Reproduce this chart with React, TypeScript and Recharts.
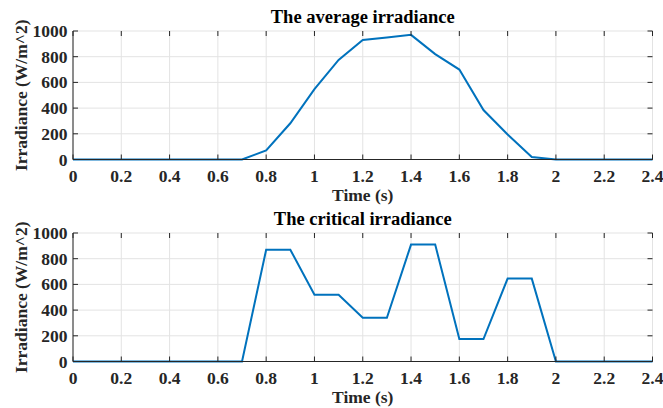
import { LineChart, Line, XAxis, YAxis, CartesianGrid } from 'recharts'

// time samples (s)
const TIME = [
  0, 0.1, 0.2, 0.3, 0.4, 0.5, 0.6, 0.7, 0.8, 0.9, 1.0, 1.1, 1.2,
  1.3, 1.4, 1.5, 1.6, 1.7, 1.8, 1.9, 2.0, 2.1, 2.2, 2.3, 2.4,
]

// average irradiance (W/m^2)
const AVG_IRR = [
  0, 0, 0, 0, 0, 0, 0, 0, 70, 282, 548, 775, 930,
  950, 970, 820, 700, 385, 195, 20, 0, 0, 0, 0, 0,
]

// critical irradiance (W/m^2)
const CRIT_IRR = [
  0, 0, 0, 0, 0, 0, 0, 0, 870, 870, 520, 520, 340,
  340, 910, 910, 175, 175, 645, 645, 0, 0, 0, 0, 0,
]

const X_TICKS = [0, 0.2, 0.4, 0.6, 0.8, 1, 1.2, 1.4, 1.6, 1.8, 2, 2.2, 2.4]
const Y_TICKS = [0, 200, 400, 600, 800, 1000]

const TITLES = ['The average irradiance', 'The critical irradiance']
const X_LABEL = 'Time (s)'
const Y_LABEL = 'Irradiance (W/m^2)'

const LINE_COLOR = '#0072BD'
const AXIS_COLOR = '#262626'
const GRID_COLOR = '#e3e3e3'
const FONT = 'Liberation Serif'

const WIDTH = 663
const PLOT_H = 128.5
const PLOT_W = 579.5
const TICK_LEN = 5

const tickStyle = { fontFamily: FONT, fontWeight: 700, fontSize: 17.5 }
const labelStyle = { fontFamily: FONT, fontWeight: 700, fontSize: 17.5 }
const titleStyle = { fontFamily: FONT, fontWeight: 700, fontSize: 18.5 }

const XTick = ({ x, y, payload }: any) => (
  <g>
    <line x1={x} y1={y} x2={x} y2={y - TICK_LEN} stroke={AXIS_COLOR} />
    <line x1={x} y1={y - PLOT_H} x2={x} y2={y - PLOT_H + TICK_LEN} stroke={AXIS_COLOR} />
    <text x={x} y={y + 22} textAnchor="middle" fill={AXIS_COLOR} style={tickStyle}>
      {String(payload.value)}
    </text>
  </g>
)

const YTick = ({ x, y, payload }: any) => (
  <g>
    <line x1={x} y1={y} x2={x + TICK_LEN} y2={y} stroke={AXIS_COLOR} />
    <line x1={x + PLOT_W} y1={y} x2={x + PLOT_W - TICK_LEN} y2={y} stroke={AXIS_COLOR} />
    <text x={x - 5.5} y={y + 6} textAnchor="end" fill={AXIS_COLOR} style={tickStyle}>
      {String(payload.value)}
    </text>
  </g>
)

function IrradiancePanel({ values, title, top }: { values: number[]; title: string; top: number }) {
  const data = TIME.map((t, i) => ({ t, v: values[i] }))

  return (
    <div style={{ position: 'absolute', left: 0, top }}>
      <LineChart
        width={WIDTH}
        height={212}
        data={data}
        margin={{ top: 31, right: 10.5, bottom: 0, left: 0 }}
      >
        <CartesianGrid stroke={GRID_COLOR} />

        <XAxis
          dataKey="t"
          type="number"
          domain={[0, 2.4]}
          ticks={X_TICKS}
          interval={0}
          height={212 - 31 - PLOT_H}
          tickSize={0}
          tickMargin={0}
          tickLine={false}
          tick={<XTick />}
          axisLine={{ stroke: AXIS_COLOR }}
          label={(p: any) => {
            const cx = p.viewBox.x + p.viewBox.width / 2
            return (
              <g>
                <text x={cx} y={p.viewBox.y + 41} textAnchor="middle" fill={AXIS_COLOR} style={labelStyle}>
                  {X_LABEL}
                </text>
                <text x={cx} y={p.viewBox.y - PLOT_H - 8} textAnchor="middle" fill="#000" style={titleStyle}>
                  {title}
                </text>
              </g>
            )
          }}
        />

        {/* top border */}
        <XAxis
          xAxisId="top"
          orientation="top"
          type="number"
          domain={[0, 2.4]}
          height={0}
          tick={false}
          tickLine={false}
          axisLine={{ stroke: AXIS_COLOR }}
        />

        <YAxis
          type="number"
          domain={[0, 1000]}
          ticks={Y_TICKS}
          width={73}
          tickSize={0}
          tickMargin={0}
          tickLine={false}
          tick={<YTick />}
          axisLine={{ stroke: AXIS_COLOR }}
          label={(p: any) => {
            const cx = 27
            const cy = p.viewBox.y + p.viewBox.height / 2
            return (
              <text x={cx} y={cy} transform={`rotate(-90, ${cx}, ${cy})`}
                textAnchor="middle" fill={AXIS_COLOR} style={labelStyle}>
                {Y_LABEL}
              </text>
            )
          }}
        />

        {/* right border */}
        <YAxis
          yAxisId="right"
          orientation="right"
          type="number"
          domain={[0, 1000]}
          width={0}
          tick={false}
          tickLine={false}
          axisLine={{ stroke: AXIS_COLOR }}
        />

        <Line
          type="linear"
          dataKey="v"
          stroke={LINE_COLOR}
          strokeWidth={2}
          dot={false}
          isAnimationActive={false}
        />
      </LineChart>
    </div>
  )
}

export default function App() {
  return (
    <div style={{ position: 'absolute', left: 0, top: 0, width: WIDTH, height: 408, background: '#fff', overflow: 'hidden' }}>
      <IrradiancePanel values={AVG_IRR} title={TITLES[0]} top={0} />
      <IrradiancePanel values={CRIT_IRR} title={TITLES[1]} top={202} />
    </div>
  )
}
